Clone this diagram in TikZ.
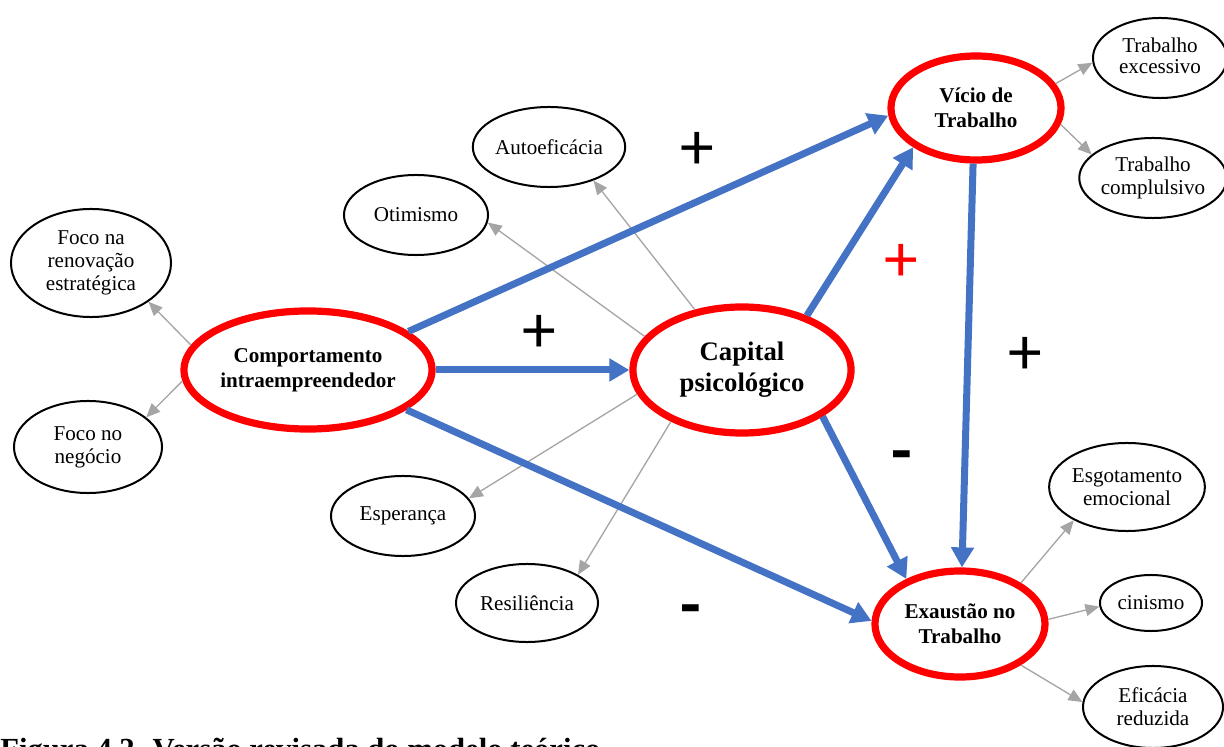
\documentclass[tikz,border=0pt]{standalone}
\usepackage{fontspec}
\setmainfont{Liberation Serif}
\newfontfamily\signfont{Carlito}
\usetikzlibrary{arrows.meta,shapes.geometric}
\definecolor{linkblue}{HTML}{4472C4}
\definecolor{ringred}{HTML}{FF0000}
\definecolor{leafgray}{HTML}{A5A5A5}

\begin{document}
\begin{tikzpicture}[x=0.025cm,y=-0.025cm,
  every node/.style={inner sep=0pt},
  ell/.style n args={2}{ellipse, minimum width=#1*0.05cm, minimum height=#2*0.05cm, align=center},
  leaf/.style={draw=black, fill=white, line width=0.05cm, font=\fontsize{15pt}{16.4pt}\selectfont},
  core/.style={draw=ringred, fill=white, line width=0.18cm, font=\fontsize{15pt}{17.8pt}\selectfont\bfseries},
  mainlink/.style={draw=linkblue, line width=0.175cm, -{Triangle[length=0.5cm,width=0.55cm]}},
  sublink/.style={draw=leafgray, line width=0.033cm, -{Triangle[length=0.35cm,width=0.3cm]}},
  sign/.style={font=\signfont\fontsize{48pt}{48pt}\selectfont},
  minus/.style={font=\signfont\bfseries\fontsize{48pt}{48pt}\selectfont, anchor=base}
]
\clip (0,0) rectangle (1224,747);

% core constructs
\node[core, ell={85}{52}] (vicio) at (976,108) {Vício de\\Trabalho};
\node[core, ell={119}{59}] (compor) at (308,370) {Comportamento\\intraempreendedor};
\node[core, ell={109}{63}, font=\fontsize{19pt}{22pt}\selectfont\bfseries] (capital) at (742,370) {Capital\\psicológico};
\node[core, ell={85}{53}] (exaust) at (960,624) {Exaustão no\\Trabalho};

% dimensions
\node[leaf, ell={67}{40}] (exc) at (1160,58) {\raisebox{5pt}{\begin{tabular}{@{}c@{}}Trabalho\\[-1.6pt]excessivo\end{tabular}}};
\node[leaf, ell={70}{40}] (compul) at (1153,178) {Trabalho\\complulsivo};
\node[leaf, ell={73}{40}] (auto) at (549,147) {Autoeficácia};
\node[leaf, ell={72}{40}] (otim) at (416,215) {Otimismo};
\node[leaf, ell={80}{54}] (renov) at (91,263) {Foco na\\renovação\\estratégica};
\node[leaf, ell={74}{46}] (negoc) at (88,447) {Foco no\\negócio};
\node[leaf, ell={72}{40}] (esper) at (403,516) {Esperança};
\node[leaf, ell={71}{39}] (resil) at (527,603) {Resiliência};
\node[leaf, ell={73}{44}] (esgot) at (1127,487) {Esgotamento\\emocional};
\node[leaf, ell={51}{28}] (cinis) at (1151,603) {cinismo};
\node[leaf, ell={70}{41}] (efic) at (1153,707) {Eficácia\\reduzida};

% links to dimensions
\draw[sublink] (compor.168) -- (renov.-34);
\draw[sublink] (compor.185) -- (negoc.27);
\draw[sublink] (capital.161) -- (otim.-6);
\draw[sublink] (capital.128) -- (auto.-37);
\draw[sublink] (capital.-167) -- (esper.15);
\draw[sublink] (capital.-144) -- (resil.29);
\draw[sublink] (vicio.17) -- (exc.184);
\draw[sublink] (vicio.-11) -- (compul.159);
\draw[sublink] (exaust.34) -- (esgot.-148);
\draw[sublink] (exaust.3) -- (cinis.184);
\draw[sublink] (exaust.-34) -- (efic.176);

% structural paths
\draw[mainlink] (compor.21) -- (vicio.185);
\draw[mainlink] (compor.0) -- (capital.180);
\draw[mainlink] (compor.-22) -- (exaust.178);
\draw[mainlink] (capital.40) -- (vicio.212);
\draw[mainlink] (capital.-30) -- (exaust.140);
\draw[mainlink] (vicio.-93) -- (exaust.88);

% signs of the paths
\node[sign] (p1) at (697,151) {+};
\node[sign] (p2) at (539,334) {+};
\node[sign, text=ringred] (p3) at (901,263) {+};
\node[sign] (p4) at (1025,356) {+};
\node[minus] (m1) at (902,474) {-};
\node[minus] (m2) at (691,627) {-};

% caption
\node[anchor=base west, font=\fontsize{21.8pt}{22pt}\selectfont\bfseries] (caption) at (0,759) {Figura 4.2. Versão revisada do modelo teórico};
\end{tikzpicture}
\end{document}
